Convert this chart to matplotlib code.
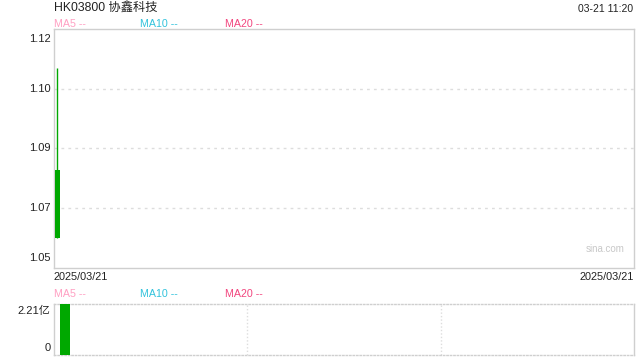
import matplotlib

matplotlib.use("Agg")
import matplotlib.pyplot as plt  # noqa: E402
import numpy as np  # noqa: E402

plt.rcParams["font.family"] = ["Liberation Sans", "Noto Sans CJK SC", "DejaVu Sans"]

INK = "#222222"
GREEN = "#00a800"
FRAME = "#cfcfcf"
GRID = "#dddddd"
MA_COLORS = ["#ff9fc2", "#32c3dc", "#f2457e"]

# data
title = "HK03800 协鑫科技"
stamp = "03-21 11:20"
dates = ["2025/03/21"]
opens = [1.08]
closes = [1.06]
highs = [1.11]
lows = [1.06]
volumes = [2.21e8]
price_ticks = ["1.12", "1.10", "1.09", "1.07", "1.05"]
vol_ticks = ["2.21亿", "0"]
ma_labels = ["MA5 --", "MA10 --", "MA20 --"]

W, H = 640, 360
fig = plt.figure(figsize=(W / 100, H / 100), dpi=100)


def px_axes(left, top, right, bottom):
    return fig.add_axes([left / W, 1 - bottom / H, (right - left) / W, (bottom - top) / H])


# price panel
ax = px_axes(54, 29, 634, 268)
ylo, yhi = 1.0513, 1.1213
ax.set_ylim(ylo, yhi)
ax.set_xlim(-0.5, 82.4)
x = np.arange(len(opens))
for i in x:
    ax.vlines(i, lows[i], highs[i], color=GREEN, linewidth=1, zorder=3)
    ax.bar(i, opens[i] - closes[i], bottom=closes[i], width=0.72, color=GREEN, zorder=3)
levels = np.linspace(yhi, ylo, len(price_ticks))
for lv in levels[1:-1]:
    ax.axhline(lv, color=GRID, linestyle=(0, (2, 3)), linewidth=1, zorder=1)
ax.set_xticks([])
ax.set_yticks([])
for s in ax.spines.values():
    s.set_color(FRAME)
    s.set_linewidth(1)
for k, (lv, lab) in enumerate(zip(levels, price_ticks)):
    va = "top" if k == 0 else ("bottom" if k == len(levels) - 1 else "center")
    off = -0.0015 if k == 0 else (0.0015 if k == len(levels) - 1 else 0)
    ax.text(-0.006, lv + off, lab, transform=ax.get_yaxis_transform(), ha="right", va=va,
            fontsize=8, color=INK)
ax.text(0.983, 0.08, "sina.com", transform=ax.transAxes, ha="right", va="center",
        fontsize=7, color="#c8c8c8")

# volume panel
vx = px_axes(54, 304, 634, 355)
vx.set_xlim(-0.5, 25.9)
vx.set_ylim(0, volumes[0])
vx.bar(x, volumes, width=0.45, color=GREEN, zorder=3)
x0, x1 = vx.get_xlim()
for f in (1 / 3, 2 / 3):
    vx.axvline(x0 + f * (x1 - x0), color=GRID, linestyle=(0, (1, 1.5)), linewidth=1, zorder=1)
vx.set_xticks([])
vx.set_yticks([])
for side, s in vx.spines.items():
    s.set_color(FRAME)
    s.set_linewidth(1)
    if side in ("top", "bottom"):
        s.set_linestyle((0, (1, 1.5)))
vx.text(-0.006, 0.86, vol_ticks[0], transform=vx.transAxes, ha="right", va="center",
        fontsize=8, color=INK)
vx.text(-0.006, 0.13, vol_ticks[1], transform=vx.transAxes, ha="right", va="center",
        fontsize=8, color=INK)

# header / labels
fig.text(54 / W, 1 - 8 / H, title, ha="left", va="center", fontsize=8.8, color=INK)
fig.text(633 / W, 1 - 9 / H, stamp, ha="right", va="center", fontsize=7.5, color=INK)
for row_y in (24, 294):
    for xp, lab, c in zip((54, 140, 225), ma_labels, MA_COLORS):
        fig.text(xp / W, 1 - row_y / H, lab, ha="left", va="center", fontsize=7.7, color=c)
fig.text(54 / W, 1 - 277 / H, dates[0], ha="left", va="center", fontsize=7.8, color=INK)
fig.text(634 / W, 1 - 277 / H, dates[-1], ha="right", va="center", fontsize=7.8, color=INK)

fig.savefig("out.png", dpi=100)
